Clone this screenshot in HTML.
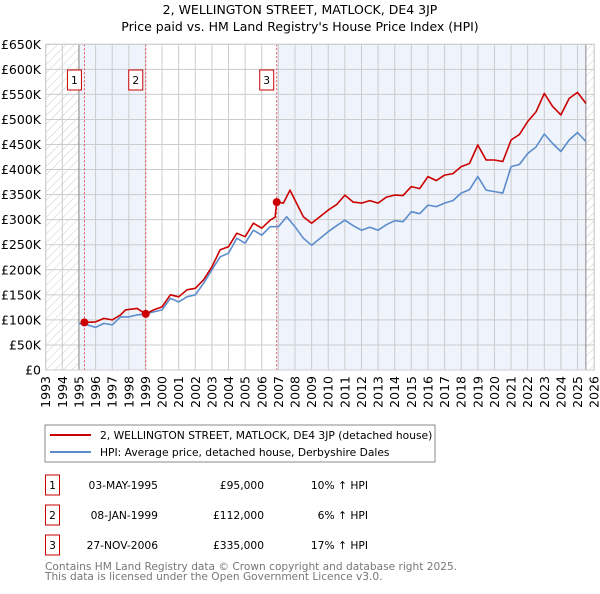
<!DOCTYPE html>
<html><head><meta charset="utf-8"><style>
body{margin:0;background:#fff;font-family:"DejaVu Sans","Liberation Sans",sans-serif;}
svg text{font-family:"DejaVu Sans","Liberation Sans",sans-serif;}
</style></head><body>
<svg id="chart" width="600" height="590" xmlns="http://www.w3.org/2000/svg">
<defs><pattern id="hatch" width="6" height="6" patternUnits="userSpaceOnUse" patternTransform="rotate(45)"><line x1="0" y1="0" x2="0" y2="6" stroke="#ccc" stroke-width="1"/></pattern></defs>
<text x="300" y="14" text-anchor="middle" font-size="12.5">2, WELLINGTON STREET, MATLOCK, DE4 3JP</text>
<text x="300" y="31" text-anchor="middle" font-size="12.5">Price paid vs. HM Land Registry's House Price Index (HPI)</text>
<g id="plot"></g>
<rect x="45" y="425" width="390" height="37" fill="#fff" stroke="#888"/>
<line x1="50" y1="435" x2="91" y2="435" stroke="#cc0000" stroke-width="2"/>
<text x="100" y="439" font-size="10.7">2, WELLINGTON STREET, MATLOCK, DE4 3JP (detached house)</text>
<line x1="50" y1="452" x2="91" y2="452" stroke="#5b8ccc" stroke-width="2"/>
<text x="100" y="456" font-size="10.7">HPI: Average price, detached house, Derbyshire Dales</text>
<g id="table" font-size="10.7"></g>
<text x="45" y="570" font-size="10.6" fill="#777">Contains HM Land Registry data © Crown copyright and database right 2025.</text>
<text x="45" y="580" font-size="10.6" fill="#777">This data is licensed under the Open Government Licence v3.0.</text>
</svg>
<script>
const redYears=[1995.33,1996,1996.5,1997,1997.5,1997.8,1998.5,1999.02,1999.5,2000,2000.5,2001,2001.5,2002,2002.5,2003,2003.5,2004,2004.5,2005,2005.5,2006,2006.5,2006.8,2006.9,2007.3,2007.7,2008,2008.5,2009,2010,2010.5,2011,2011.5,2012,2012.5,2013,2013.5,2014,2014.5,2015,2015.5,2016,2016.5,2017,2017.5,2018,2018.5,2019,2019.5,2020,2020.5,2021,2021.5,2022,2022.5,2023,2023.5,2024,2024.5,2025,2025.5];
const redVals=[95,96,103,100,110,120,123,112,120,126,150,146,160,163,180,206,240,246,273,266,293,283,299,305,335,333,359,339,306,293,319,330,349,335,333,338,333,345,349,348,366,362,386,378,389,392,406,412,449,419,419,416,459,470,496,515,552,526,509,542,554,532];
const blueYears=[1995,1995.5,1996,1996.5,1997,1997.5,1998,1998.5,1999,1999.5,2000,2000.5,2001,2001.5,2002,2002.5,2003,2003.5,2004,2004.5,2005,2005.5,2006,2006.5,2007,2007.5,2008,2008.5,2009,2010,2010.5,2011,2011.5,2012,2012.5,2013,2013.5,2014,2014.5,2015,2015.5,2016,2016.5,2017,2017.5,2018,2018.5,2019,2019.5,2020,2020.5,2021,2021.5,2022,2022.5,2023,2023.5,2024,2024.5,2025,2025.5];
const blueVals=[93,90,85,93,90,106,106,110,112,116,120,143,136,146,150,173,200,226,233,263,253,279,269,286,286,306,286,263,249,276,288,299,288,279,285,279,290,298,296,316,312,329,326,333,338,353,360,386,359,356,353,406,410,432,445,471,452,436,459,474,456];
const yTicks=[0,50,100,150,200,250,300,350,400,450,500,550,600,650];
const yTickLabels=["£0","£50K","£100K","£150K","£200K","£250K","£300K","£350K","£400K","£450K","£500K","£550K","£600K","£650K"];
const xTicks=[1993,1994,1995,1996,1997,1998,1999,2000,2001,2002,2003,2004,2005,2006,2007,2008,2009,2010,2011,2012,2013,2014,2015,2016,2017,2018,2019,2020,2021,2022,2023,2024,2025,2026];
const saleYears=[1995.33,1999.02,2006.9];
const saleVals=[95,112,335];
const saleLabels=["1","2","3"];
const saleDates=["03-MAY-1995","08-JAN-1999","27-NOV-2006"];
const salePrices=["£95,000","£112,000","£335,000"];
const saleHpi=["10% ↑ HPI","6% ↑ HPI","17% ↑ HPI"];

const NS="http://www.w3.org/2000/svg";
const X0=45.7,XW=16.62,Y0=370,YK=0.5011;
const sx=y=>X0+(y-1993)*XW, sy=v=>Y0-v*YK;
const plot=document.getElementById('plot');
function mk(tag,attrs,parent){const e=document.createElementNS(NS,tag);for(const k in attrs)e.setAttribute(k,attrs[k]);(parent||plot).appendChild(e);return e;}
const TOPY=sy(650),RIGHTX=sx(2026);
mk('rect',{x:sx(1993),y:TOPY,width:sx(1995)-sx(1993),height:Y0-TOPY,fill:'url(#hatch)'});
mk('rect',{x:sx(2025.5),y:TOPY,width:RIGHTX-sx(2025.5),height:Y0-TOPY,fill:'url(#hatch)'});
mk('rect',{x:sx(1995),y:TOPY,width:sx(1999.02)-sx(1995),height:Y0-TOPY,fill:'#eef3fc'});
mk('rect',{x:sx(2006.9),y:TOPY,width:sx(2025.5)-sx(2006.9),height:Y0-TOPY,fill:'#eef3fc'});
yTicks.forEach((t,i)=>{
 const g=mk('line',{x1:X0,x2:RIGHTX,y1:sy(t),y2:sy(t),stroke:'#ccc','stroke-width':1});
 
 
 const tx=mk('text',{x:41,y:sy(t)+4.5,'text-anchor':'end','font-size':12.5});
 tx.textContent=yTickLabels[i];
 
 
});
xTicks.forEach(t=>{
 const g=mk('line',{x1:sx(t),x2:sx(t),y1:TOPY,y2:Y0,stroke:'#ccc','stroke-width':1});
 
 
 const tx=mk('text',{x:0,y:0,'text-anchor':'end','font-size':12.5,transform:`translate(${sx(t)+4.5},${Y0+6}) rotate(-90)`});
 tx.textContent=t;
 
 
});
mk('line',{x1:sx(1995),x2:sx(1995),y1:TOPY,y2:Y0,stroke:'#888'});
mk('line',{x1:sx(2025.5),x2:sx(2025.5),y1:TOPY,y2:Y0,stroke:'#888'});
saleYears.forEach((y,i)=>{
 const l=mk('line',{x1:sx(y),x2:sx(y),y1:TOPY,y2:Y0,stroke:'#e05050','stroke-dasharray':'2,2'});
 
 
 const b=mk('rect',{x:sx(y)-17,y:70,width:14,height:20,fill:'#fff',stroke:'#cc0000'});
 
 
 const t=mk('text',{x:sx(y)-10,y:84,'text-anchor':'middle','font-size':10.7});
 t.textContent=saleLabels[i];
});
function path(xs,vs,col,name){
 const d=xs.map((x,i)=>(i?'L':'M')+sx(x).toFixed(1)+','+sy(vs[i]).toFixed(1)).join('');
 const p=mk('path',{d,fill:'none',stroke:col,'stroke-width':1.6,'stroke-linejoin':'round'});
 
 
}
path(blueYears,blueVals,'#5b8ccc','hpi-line');
path(redYears,redVals,'#cc0000','price-paid-line');
saleYears.forEach((y,i)=>{
 const c=mk('circle',{cx:sx(y),cy:sy(saleVals[i]),r:4,fill:'#cc0000'});
 
 
});
mk('rect',{x:X0,y:TOPY,width:RIGHTX-X0,height:Y0-TOPY,fill:'none',stroke:'#ccc'});
const tbl=document.getElementById('table');
saleYears.forEach((y,i)=>{
 const yy=485+i*30;
 const b=mk('rect',{x:45.5,y:yy-10,width:14,height:20,fill:'#fff',stroke:'#cc0000'},tbl);
 
 
 const cells=[[52.5,saleLabels[i],'middle'],[158,saleDates[i],'end'],[264,salePrices[i],'end'],[368,saleHpi[i],'end']];
 cells.forEach(c=>{const t=mk('text',{x:c[0],y:yy+4,'text-anchor':c[2]},tbl);t.textContent=c[1];
  
  });
});
</script>
</body></html>
